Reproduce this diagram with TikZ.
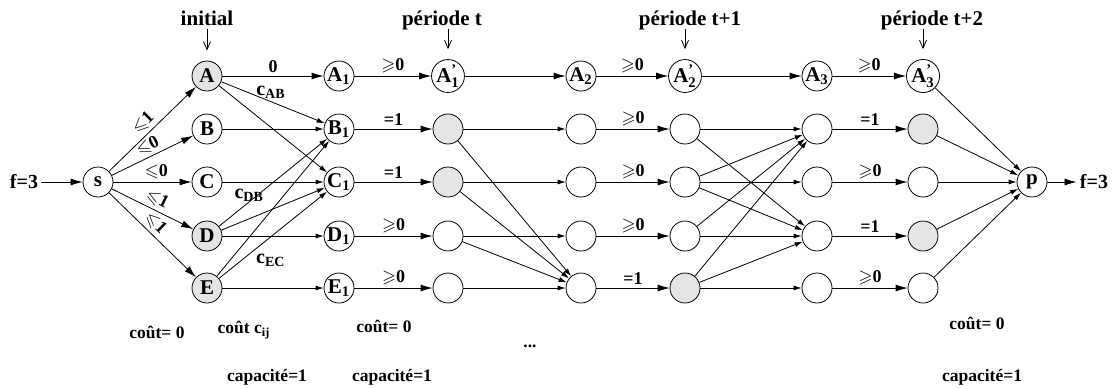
\documentclass[tikz,border=0pt]{standalone}
\usepackage{amsmath}
\usepackage{amssymb}
\usepackage{fontspec}
\setmainfont{Liberation Serif}
\usetikzlibrary{positioning,arrows.meta}

\begin{document}
\begin{tikzpicture}[x=0.5pt, y=-0.5pt,
    state/.style={
      circle, draw, minimum size=15pt, inner sep=0pt,
      font=\fontsize{10.5}{12}\selectfont\bfseries
    },
    used/.style={state, fill=black!10},
    big/.style={-{Latex[length=6pt,width=3.5pt]}},
    small/.style={-{Latex[length=4pt,width=2.5pt]}},
    down/.style={-{Straight Barb[length=4pt,width=3.5pt]}, shorten <=2pt, shorten >=5pt},
    lab/.style={font=\fontsize{9}{10}\selectfont\bfseries, inner sep=1.5pt},
    cost/.style={lab, font=\fontsize{10}{12}\selectfont\bfseries},
    period/.style={font=\fontsize{10.5}{12}\selectfont\bfseries, anchor=base},
    note/.style={font=\fontsize{8.75}{10}\selectfont\bfseries},
  ]
    \useasboundingbox (0,0) rectangle (1112,388);

    % source and sink
    \node[cost](fin) at (24,182){f=3};
    \node[state](s) at (98,182){s};
    \node[state](p) at (1032,182){p};
    \node[cost](fout) at (1094,182){f=3};

    % initial positions
    \node[used](a0) at (207,76){A};
    \node[state](b0) at (207,129){B};
    \node[state](c0) at (207,182){C};
    \node[used](d0) at (207,236){D};
    \node[used](e0) at (207,288){E};

    \node[state](a1) at (339,76){A\textsubscript{1}};
    \node[state](b1) at (339,129){B\textsubscript{1}};
    \node[state](c1) at (339,182){C\textsubscript{1}};
    \node[state](d1) at (339,236){D\textsubscript{1}};
    \node[state](e1) at (339,288){E\textsubscript{1}};

    \node[state](a2) at (448,76){A$^{\text{’}}_{\text{1}}$};
    \node[state](a3) at (581,76){A\textsubscript{2}};
    \node[state](a4) at (685,76){A$^{\text{’}}_{\text{2}}$};
    \node[state](a5) at (817,76){A\textsubscript{3}};
    \node[state](a6) at (923,76){A$^{\text{’}}_{\text{3}}$};

    % empty nodes of the periods
    \foreach \n/\x/\y/\kind in {
        b2/448/129/used, c2/448/182/used, d2/448/236/state, e2/448/288/state,
        b3/581/129/state, c3/581/182/state, d3/581/236/state, e3/581/288/state,
        b4/685/129/state, c4/685/182/state, d4/685/236/state, e4/685/288/used,
        b5/817/129/state, c5/817/182/state, d5/817/236/state, e5/817/288/state,
        b6/923/129/used, c6/923/182/state, d6/923/236/used, e6/923/288/state}
      \node[\kind](\n) at (\x,\y){};

    % labels on top
    \node[period](init) at (207,25){initial};
    \node[period](per0) at (442,25){période t};
    \node[period](per1) at (690,25){période t+1};
    \node[period](per2) at (932,25){période t+2};
    \draw[down] (init.base -| a0) -- (a0.north);
    \draw[down] (per0.base -| a2) -- (a2.north);
    \draw[down] (per1.base -| a4) -- (a4.north);
    \draw[down] (per2.base -| a6) -- (a6.north);

    % notes at the bottom
    \node[note](cost0) at (157,332){coût= 0};
    \node[note](costij) at (244,330){coût c\textsubscript{ij}};
    \node[note](cost1) at (384,326){coût= 0};
    \node[note](dots) at (530,346){...};
    \node[note](cap0) at (267,377){capacité=1};
    \node[note](cap1) at (392,377){capacité=1};
    \node[note](cost2) at (977,323){coût= 0};
    \node[note](cap2) at (982,377){capacité=1};

    % source side
    \draw[big] (fin) -- (s);
    \draw[big] (s) -- node[lab, sloped, above, pos=0.48]{$\leqslant$1} (a0);
    \draw[big] (s) -- node[lab, sloped, above, pos=0.5]{$\leqslant$0} (b0);
    \draw[big] (s) -- node[lab, above, pos=0.55]{$\leqslant$0} (c0);
    \draw[big] (s) -- node[lab, sloped, above, pos=0.5]{$\leqslant$1} (d0);
    \draw[big] (s) -- node[lab, sloped, above, pos=0.45]{$\leqslant$1} (e0);

    % assignment with cost c_ij
    \draw[big] (a0) -- node[lab, above]{0} (a1);
    \draw[small] (a0) -- node[cost, above, pos=0.48]{c\textsubscript{AB}} (b1);
    \draw[small] (a0) -- (c1);
    \draw[small] (b0) -- (b1);
    \draw[small] (c0) -- (c1);
    \draw[small] (d0) -- node[cost, pos=0.28, yshift=3pt]{c\textsubscript{DB}} (b1);
    \draw[small] (d0) -- (c1);
    \draw[small] (d0) -- (d1);
    \draw[small] (e0) -- (b1);
    \draw[small] (e0) -- node[cost, below=7pt, pos=0.48]{c\textsubscript{EC}} (c1);
    \draw[small] (e0) -- (e1);

    % period t
    \draw[big] (a1) -- node[lab, above]{$\geqslant$0} (a2);
    \draw[big] (b1) -- node[lab, above]{=1} (b2);
    \draw[big] (c1) -- node[lab, above]{=1} (c2);
    \draw[big] (d1) -- node[lab, above]{$\geqslant$0} (d2);
    \draw[big] (e1) -- node[lab, above]{$\geqslant$0} (e2);

    \draw[big] (a2) -- (a3);
    \draw[small] (b2) -- (b3);
    \draw[small] (b2) -- (e3);
    \draw[small] (c2) -- (c3);
    \draw[small] (c2) -- (e3);
    \draw[small] (d2) -- (d3);
    \draw[small] (d2) -- (e3);
    \draw[small] (e2) -- (e3);

    % period t+1
    \draw[big] (a3) -- node[lab, above]{$\geqslant$0} (a4);
    \draw[big] (b3) -- node[lab, above]{$\geqslant$0} (b4);
    \draw[big] (c3) -- node[lab, above]{$\geqslant$0} (c4);
    \draw[big] (d3) -- node[lab, above]{$\geqslant$0} (d4);
    \draw[big] (e3) -- node[lab, above]{=1} (e4);

    \draw[big] (a4) -- (a5);
    \draw[small] (b4) -- (b5);
    \draw[small] (b4) -- (d5);
    \draw[small] (c4) -- (b5);
    \draw[small] (c4) -- (c5);
    \draw[small] (c4) -- (d5);
    \draw[small] (d4) -- (b5);
    \draw[small] (d4) -- (d5);
    \draw[small] (e4) -- (b5);
    \draw[small] (e4) -- (d5);
    \draw[small] (e4) -- (e5);

    % period t+2
    \draw[big] (a5) -- node[lab, above]{$\geqslant$0} (a6);
    \draw[big] (b5) -- node[lab, above]{=1} (b6);
    \draw[big] (c5) -- node[lab, above]{$\geqslant$0} (c6);
    \draw[big] (d5) -- node[lab, above]{=1} (d6);
    \draw[big] (e5) -- node[lab, above]{$\geqslant$0} (e6);

    % sink side
    \draw[small] (a6) -- (p);
    \draw[small] (b6) -- (p);
    \draw[small] (c6) -- (p);
    \draw[small] (d6) -- (p);
    \draw[small] (e6) -- (p);
    \draw[big] (p) -- (fout);

  \end{tikzpicture}
\end{document}
